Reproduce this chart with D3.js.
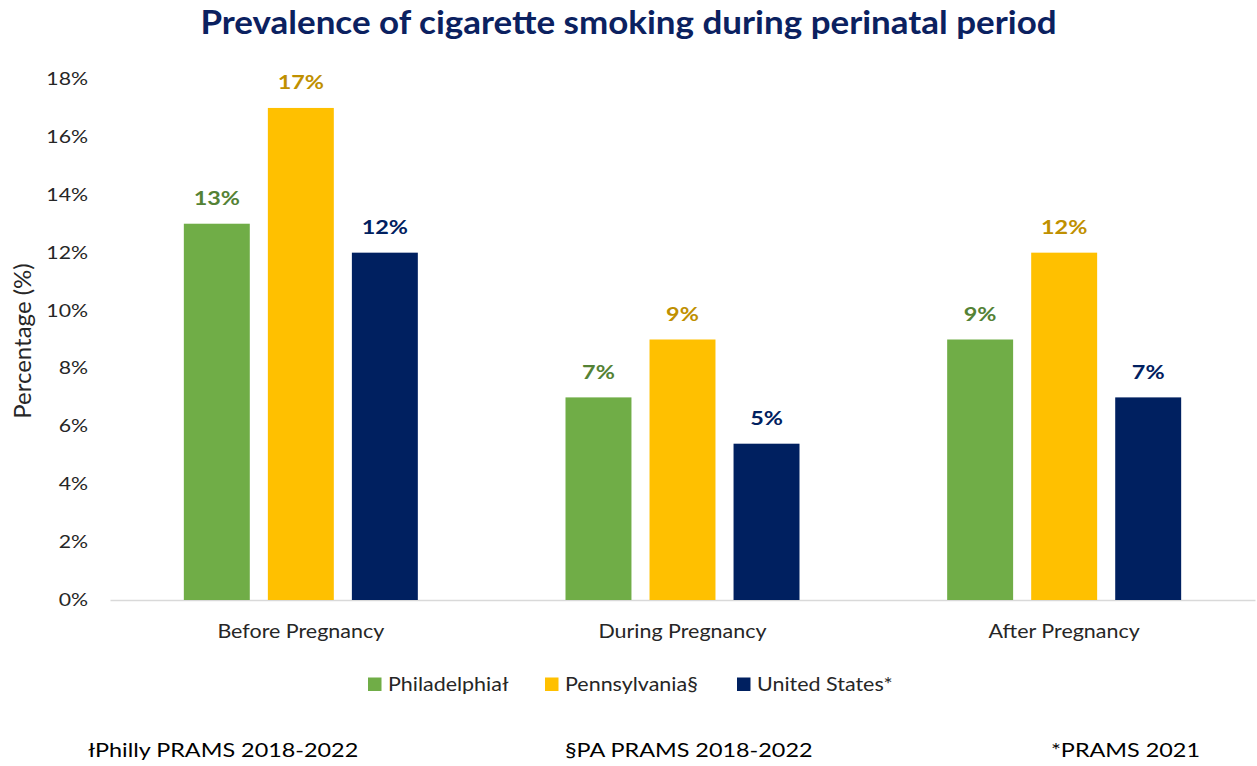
<!DOCTYPE html>
<html>
<head>
<meta charset="utf-8">
<script src="https://cdn.jsdelivr.net/npm/d3@7"></script>
<style>
  html, body { margin: 0; padding: 0; background: #fff; }
  svg { display: block; font-family: Lato, "Open Sans", sans-serif; }
  /* Wide lettering: stretch glyphs horizontally around their anchor */
  .wide { transform-box: fill-box; }
  .wide-start { transform-origin: left center; }
  .wide-mid { transform-origin: center center; }
  .wide-end { transform-origin: right center; }
</style>
</head>
<body>
<svg id="chart" width="1257" height="766"></svg>
<script>
// Smoking prevalence (%) by perinatal period and geography
const periods = ["Before Pregnancy", "During Pregnancy", "After Pregnancy"];
const seriesNames = ["Philadelphiał", "Pennsylvania§", "United States*"];
const philadelphia = [13, 7, 9];
const pennsylvania = [17, 9, 12];
const unitedStates = [12, 5.4, 7];
const yTicks = [0, 2, 4, 6, 8, 10, 12, 14, 16, 18];
const footnotes = ["łPhilly PRAMS 2018-2022", "§PA PRAMS 2018-2022", "*PRAMS 2021"];

const barColors = ["#70AD47", "#FFC000", "#002060"];
const labelColors = ["#548235", "#BF9000", "#002060"];

const series = [philadelphia, pennsylvania, unitedStates];

const W = 1257, H = 766;
const margin = { left: 110, right: 2, top: 79, bottom: 166 };
const plotW = W - margin.left - margin.right;
const plotH = H - margin.top - margin.bottom;

const svg = d3.select("#chart");
const g = svg.append("g").attr("transform", `translate(${margin.left},${margin.top})`);

// apply a horizontal stretch to a text selection
function widen(sel, k, anchor) {
  sel.classed("wide", true).classed("wide-" + anchor, true)
     .style("transform", `scaleX(${k})`);
  return sel;
}

const x0 = d3.scaleBand().domain(periods).range([0, plotW]);
const x1 = d3.scaleBand().domain(seriesNames).range([0, 234]).paddingInner(0.215);
const y = d3.scaleLinear().domain([0, 18]).range([plotH, 0]);

// Title
svg.append("text")
  .attr("x", W / 2).attr("y", 34.5)
  .attr("text-anchor", "middle")
  .attr("font-size", 31.5).attr("font-weight", 700)
  .attr("fill", "#0B2160")
  .text("Prevalence of cigarette smoking during perinatal period")
  .call(widen, 1.11, "mid");

// Y axis tick labels
const yAxis = d3.axisLeft(y).tickValues(yTicks).tickFormat(d => d + "%").tickSize(0).tickPadding(22);
const yg = g.append("g").call(yAxis);
yg.select(".domain").remove();
yg.attr("font-family", null);
yg.selectAll("text").attr("font-size", 17).attr("fill", "#262626")
  .call(widen, 1.25, "end");

// Category axis with light baseline
const xAxis = d3.axisBottom(x0).tickSize(0);
const xg = g.append("g").attr("transform", `translate(0,${plotH})`).call(xAxis);
xg.attr("font-family", null);
xg.select(".domain").attr("stroke", "#D9D9D9").attr("stroke-width", 1.3);
xg.selectAll("text").attr("y", 38.3).attr("dy", null)
  .attr("font-size", 18.5).attr("fill", "#262626")
  .call(widen, 1.16, "mid");

// Y axis title
svg.append("text")
  .attr("transform", `translate(31,341) rotate(-90)`)
  .attr("text-anchor", "middle")
  .attr("font-size", 24).attr("fill", "#262626")
  .text("Percentage (%)");

// Bars and value labels
const groups = g.selectAll(".grp").data(periods).join("g")
  .attr("class", "grp")
  .attr("transform", d => `translate(${x0(d) + x0.bandwidth() / 2 - 117},0)`);

seriesNames.forEach((name, si) => {
  groups.append("rect")
    .attr("x", x1(name))
    .attr("width", x1.bandwidth())
    .attr("y", (d, i) => y(series[si][i]))
    .attr("height", (d, i) => plotH - y(series[si][i]))
    .attr("fill", barColors[si]);

  groups.append("text")
    .attr("x", x1(name) + x1.bandwidth() / 2)
    .attr("y", (d, i) => y(series[si][i]) - 18.5)
    .attr("text-anchor", "middle")
    .attr("font-size", 19.5).attr("font-weight", 700)
    .attr("fill", labelColors[si])
    .text((d, i) => Math.round(series[si][i]) + "%")
    .call(widen, 1.2, "mid");
});

// Legend
const legendX = [368, 545, 737];
const legend = svg.append("g");
seriesNames.forEach((name, si) => {
  legend.append("rect").attr("x", legendX[si]).attr("y", 677.5).attr("width", 13.5).attr("height", 13.5)
    .attr("fill", barColors[si]);
  legend.append("text").attr("x", legendX[si] + 20).attr("y", 691.5)
    .attr("font-size", 19).attr("fill", "#262626").text(name)
    .call(widen, 1.13, "start");
});

// Source footnotes
const footX = [88, 565, 1200];
const footAnchor = ["start", "start", "end"];
footnotes.forEach((t, i) => {
  svg.append("text").attr("x", footX[i]).attr("y", 757.3)
    .attr("text-anchor", footAnchor[i])
    .attr("font-size", 20).attr("fill", "#000").text(t)
    .call(widen, 1.17, footAnchor[i]);
});
</script>
</body>
</html>
